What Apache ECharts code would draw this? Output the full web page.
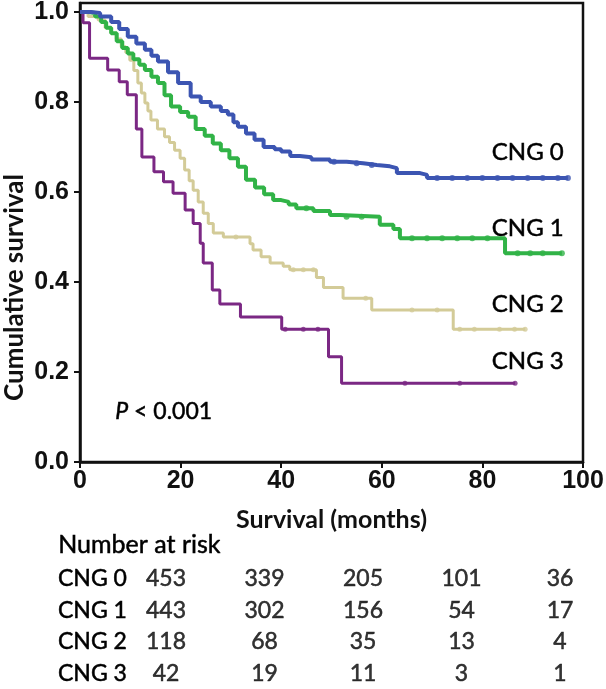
<!DOCTYPE html>
<html><head><meta charset="utf-8">
<script src="https://cdn.jsdelivr.net/npm/echarts@6/dist/echarts.min.js"></script>
<style>html,body{margin:0;padding:0;background:#fff}#c{width:606px;height:689px}</style>
</head><body><div id="c"></div>
<script>
// Kaplan-Meier step data: [months, cumulative survival]
const cng0 = [[0,1.0],[2.2,0.998],[4,0.99],[6.2,0.978],[7.8,0.962],[9.5,0.945],[11.2,0.93],[12.9,0.916],[14.2,0.903],[15.5,0.89],[17.5,0.866],[19.5,0.842],[22,0.812],[24,0.80],[26,0.79],[28,0.78],[29.4,0.772],[30.5,0.755],[31.4,0.745],[33,0.73],[34.7,0.716],[36.5,0.70],[38.7,0.695],[40,0.69],[41.8,0.68],[43.7,0.677],[46,0.672],[49.7,0.667],[53,0.664],[56.3,0.66],[59,0.657],[61.6,0.653],[63,0.642],[67.6,0.638],[69,0.631],[97,0.631]];
const cng1 = [[0,1.0],[1.6,0.998],[3,0.99],[4.2,0.978],[5.2,0.965],[6.2,0.953],[7.3,0.935],[8.4,0.92],[9.5,0.908],[10.6,0.895],[11.8,0.883],[12.9,0.871],[14.2,0.856],[15.5,0.842],[16.8,0.815],[18.1,0.79],[19.9,0.778],[21.5,0.767],[23,0.74],[24.8,0.725],[26.4,0.708],[28,0.693],[29.7,0.675],[31.4,0.656],[33,0.627],[34.8,0.61],[36.6,0.595],[38.4,0.582],[40,0.578],[41.5,0.572],[43,0.564],[46.4,0.558],[49.7,0.549],[51.7,0.545],[59.6,0.527],[62.3,0.518],[63.6,0.497],[84.5,0.464],[95.8,0.464]];
const cng2 = [[0,1.0],[1.6,0.99],[3.6,0.982],[5,0.965],[6.2,0.953],[7.2,0.94],[8.2,0.923],[9.1,0.91],[9.9,0.893],[10.7,0.87],[11.5,0.842],[12.2,0.82],[12.9,0.798],[13.5,0.78],[14.1,0.76],[15.4,0.74],[16.8,0.723],[17.8,0.71],[18.8,0.693],[19.9,0.675],[20.8,0.649],[21.7,0.625],[22.5,0.604],[23.5,0.578],[24.5,0.553],[25.5,0.53],[26.5,0.509],[28.5,0.5],[33.8,0.485],[34.4,0.471],[36,0.456],[37.8,0.442],[40.4,0.435],[41.7,0.427],[47,0.41],[48.4,0.388],[52.3,0.364],[58,0.338],[74.2,0.295],[88.5,0.295]];
const cng3 = [[0,1.0],[0.6,0.976],[1.9,0.897],[5.5,0.871],[7.8,0.845],[9.4,0.816],[11.2,0.74],[12.3,0.678],[14.7,0.645],[16.6,0.623],[18.5,0.597],[20.9,0.56],[22.5,0.53],[23.9,0.486],[24.5,0.442],[26.3,0.382],[27.8,0.351],[31.9,0.322],[40.1,0.295],[49.4,0.234],[52.0,0.175],[86.5,0.175]];

const cens0 = [[50.5,0.667],[55,0.664],[58,0.66],[71,0.631],[74,0.631],[77,0.631],[80,0.631],[83,0.631],[86,0.631],[89,0.631],[92,0.631],[95,0.631],[97,0.631]];
const cens1 = [[45,0.564],[53,0.545],[56,0.545],[66,0.497],[69,0.497],[72,0.497],[75,0.497],[78,0.497],[81,0.497],[87,0.464],[89.5,0.464],[92,0.464],[95.8,0.464]];
const cens2 = [[31,0.5],[42.4,0.427],[44.4,0.427],[46.4,0.427],[56.8,0.364],[66,0.338],[71,0.338],[75.5,0.295],[78.4,0.295],[83.4,0.295],[86.4,0.295],[88.5,0.295]];
const cens3 = [[40.8,0.295],[44.4,0.295],[47.3,0.295],[64.6,0.175],[75.5,0.175],[86.5,0.175]];

const groupNames = ['CNG 0','CNG 1','CNG 2','CNG 3'];
const yTicks = [0,0.2,0.4,0.6,0.8,1.0];
const riskTimes = [0,20,40,60,80];
const risk0 = [453,339,205,101,36];
const risk1 = [443,302,156,54,17];
const risk2 = [118,68,35,13,4];
const risk3 = [42,19,11,3,1];
const riskRows = [risk0,risk1,risk2,risk3];

const colors = ['#3c55b2','#31b347','#d3cb98','#7b2884'];
const widths = [4,4,3,3];
const curves = [cng0,cng1,cng2,cng3];
const censors = [cens0,cens1,cens2,cens3];

const calib = 'Lato, "Open Sans", sans-serif';
const numFont = '"Liberation Sans Narrow", "Arial Narrow", "Liberation Sans", sans-serif';
const heavy = {textBorderColor:'#000', textBorderWidth:0.5};

const chart = echarts.init(document.getElementById('c'), null, {renderer:'canvas'});

const lineSeries = [];
[3,2,1,0].forEach(i => {
  lineSeries.push({
    type:'line', name:groupNames[i], xAxisIndex:0, yAxisIndex:0,
    step:'end', data:curves[i], showSymbol:false, animation:false,
    lineStyle:{color:colors[i], width:widths[i]}, itemStyle:{color:colors[i]}
  });
  lineSeries.push({
    type:'scatter', name:groupNames[i]+' censored', xAxisIndex:0, yAxisIndex:0,
    data:censors[i], symbol:'circle', symbolSize:widths[i]+2, silent:true,
    itemStyle:{color:colors[i]}
  });
});

const tableData = [];
riskRows.forEach((row,g)=>row.forEach((v,k)=>tableData.push([riskTimes[k], groupNames[g], v])));

const option = {
  animation:false,
  backgroundColor:'#fff',
  grid:[
    {left:80, right:23, top:3, bottom:227, show:true, borderColor:'#111', borderWidth:2.5, backgroundColor:'transparent', outerBoundsMode:'none', containLabel:false},
    {left:166, right:46, top:563, height:126, outerBoundsMode:'none', containLabel:false}
  ],
  xAxis:[
    {gridIndex:0, type:'value', min:0, max:100, interval:20,
     axisLine:{show:true, lineStyle:{color:'#111', width:2.5}},
     axisTick:{show:true, length:6, lineStyle:{color:'#111', width:2}},
     axisLabel:{fontFamily:numFont, fontWeight:'bold', fontSize:25, color:'#111', margin:7},
     splitLine:{show:false},
     name:'Survival (months)', nameLocation:'middle', nameGap:45,
     nameTextStyle:{fontFamily:calib, fontWeight:'bold', fontSize:25, color:'#111'}},
    {gridIndex:1, type:'value', min:0, max:80, show:false}
  ],
  yAxis:[
    {gridIndex:0, type:'value', min:0, max:1.02,
     axisLine:{show:true, lineStyle:{color:'#111', width:2.5}},
     axisTick:{show:true, length:6, lineStyle:{color:'#111', width:2}, customValues:yTicks},
     axisLabel:{fontFamily:numFont, fontWeight:'bold', fontSize:25, color:'#111', margin:11, customValues:yTicks, formatter:v=>v.toFixed(1)},
     splitLine:{show:false},
     name:'Cumulative survival', nameLocation:'middle', nameGap:52, nameMoveOverlap:false,
     nameTextStyle:{fontFamily:calib, fontWeight:'bold', fontSize:26, color:'#111', padding:[0,110,0,0]}},
    {gridIndex:1, type:'category', data:groupNames, inverse:true,
     axisLine:{show:false}, axisTick:{show:false},
     axisLabel:Object.assign({align:'left', margin:108, fontFamily:calib, fontSize:23, color:'#000'}, heavy)}
  ],
  series:[...lineSeries,
    {type:'scatter', xAxisIndex:1, yAxisIndex:1, data:tableData, symbolSize:1,
     itemStyle:{color:'rgba(0,0,0,0)'}, silent:true,
     label:Object.assign({show:true, position:'inside', formatter:p=>String(p.value[2]), fontFamily:calib, fontSize:23, color:'#000'}, heavy)}
  ],
  graphic:[
    {type:'text', right:42, top:140, style:{text:'CNG 0', font:'24px '+calib, fill:'#000', stroke:'#000', lineWidth:0.5}},
    {type:'text', right:42, top:216, style:{text:'CNG 1', font:'24px '+calib, fill:'#000', stroke:'#000', lineWidth:0.5}},
    {type:'text', right:42, top:292, style:{text:'CNG 2', font:'24px '+calib, fill:'#000', stroke:'#000', lineWidth:0.5}},
    {type:'text', right:42, top:349, style:{text:'CNG 3', font:'24px '+calib, fill:'#000', stroke:'#000', lineWidth:0.5}},
    {type:'text', left:115, top:400, style:{text:'{i|P} < 0.001', font:'23px '+calib, fill:'#000', stroke:'#000', lineWidth:0.5,
      rich:{i:{fontStyle:'italic', fontFamily:calib, fontSize:23, fill:'#000'}}}},
    {type:'text', left:58, top:532, style:{text:'Number at risk', font:'25px '+calib, fill:'#000', stroke:'#000', lineWidth:0.5}}
  ]
};
chart.setOption(option);
</script></body></html>
